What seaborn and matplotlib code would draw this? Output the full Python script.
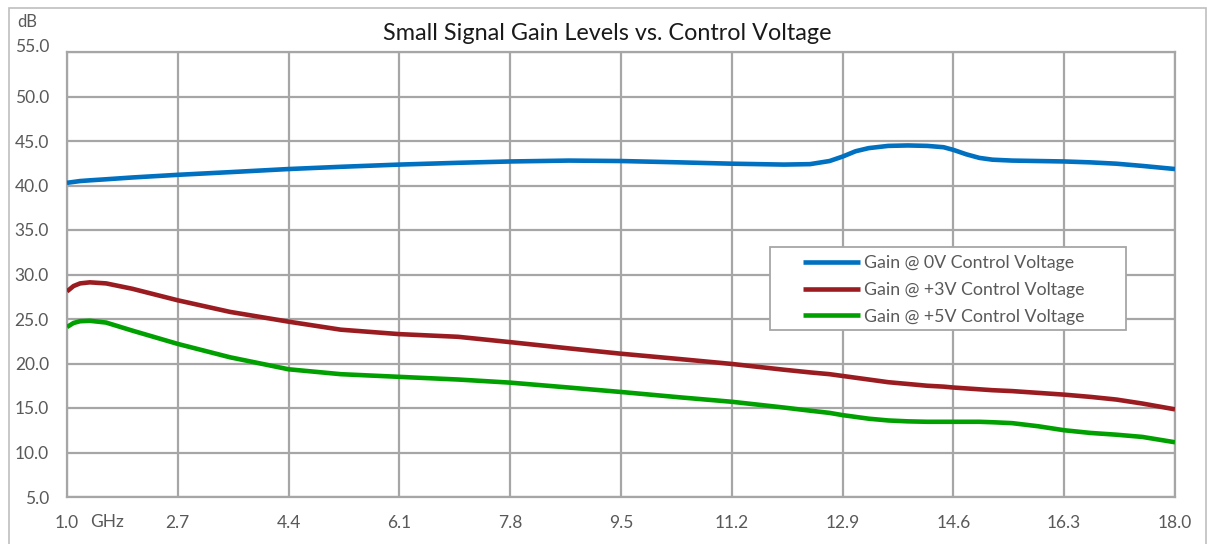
import numpy as np
import pandas as pd
import matplotlib
matplotlib.use("Agg")
import matplotlib.pyplot as plt
import matplotlib.transforms as mtransforms
from matplotlib.patches import Rectangle
import seaborn as sns

# ---- data ----
freq_ghz = [1.0, 1.1, 1.2, 1.35, 1.6, 2.0, 2.7, 3.5, 4.4, 5.2, 6.1, 7.0, 7.8, 8.7, 9.5,
            10.4, 11.2, 12.0, 12.4, 12.7, 12.9, 13.1, 13.3, 13.6, 13.9, 14.2, 14.45, 14.6,
            14.8, 15.0, 15.2, 15.5, 15.9, 16.3, 16.7, 17.1, 17.5, 18.0]
gain_0v = [40.3, 40.4, 40.5, 40.58, 40.7, 40.9, 41.2, 41.5, 41.85, 42.1, 42.35, 42.55, 42.7, 42.8, 42.75,
           42.6, 42.45, 42.35, 42.4, 42.75, 43.25, 43.85, 44.2, 44.45, 44.5, 44.45, 44.3, 44.0,
           43.5, 43.1, 42.9, 42.8, 42.75, 42.7, 42.6, 42.45, 42.2, 41.85]
gain_3v = [28.1, 28.7, 29.0, 29.12, 29.0, 28.4, 27.1, 25.8, 24.7, 23.8, 23.3, 23.0, 22.4, 21.7, 21.1,
           20.5, 19.95, 19.3, 19.0, 18.8, 18.6, 18.4, 18.2, 17.9, 17.7, 17.5, 17.4, 17.3,
           17.2, 17.1, 17.0, 16.9, 16.7, 16.5, 16.25, 15.95, 15.5, 14.85]
gain_5v = [24.1, 24.55, 24.75, 24.8, 24.6, 23.7, 22.2, 20.7, 19.35, 18.8, 18.5, 18.2, 17.85, 17.3, 16.8,
           16.2, 15.7, 15.05, 14.7, 14.45, 14.2, 14.0, 13.8, 13.6, 13.5, 13.45, 13.45, 13.45,
           13.45, 13.45, 13.4, 13.3, 12.95, 12.5, 12.2, 12.0, 11.75, 11.15]
series_names = ["Gain @ 0V Control Voltage", "Gain @ +3V Control Voltage", "Gain @ +5V Control Voltage"]
series_colors = ["#0070C0", "#9B1C20", "#00A000"]
x_ticks = [1.0, 2.7, 4.4, 6.1, 7.8, 9.5, 11.2, 12.9, 14.6, 16.3, 18.0]
x_tick_labels = ["1.0", "2.7", "4.4", "6.1", "7.8", "9.5", "11.2", "12.9", "14.6", "16.3", "18.0"]
y_ticks = [5, 10, 15, 20, 25, 30, 35, 40, 45, 50, 55]
y_tick_labels = ["5.0", "10.0", "15.0", "20.0", "25.0", "30.0", "35.0", "40.0", "45.0", "50.0", "55.0"]

df = pd.DataFrame({
    "freq": freq_ghz * 3,
    "gain": gain_0v + gain_3v + gain_5v,
    "series": [series_names[0]] * len(freq_ghz) + [series_names[1]] * len(freq_ghz)
              + [series_names[2]] * len(freq_ghz),
})

sns.set_theme(style="white")
plt.rcParams["font.family"] = ["Lato", "DejaVu Sans"]

W, H = 1209, 544
fig = plt.figure(figsize=(W / 100, H / 100), dpi=100)
ax = fig.add_axes([67 / W, 1 - 497 / H, (1175 - 67) / W, (497 - 52) / H])

GRID = "#A6A6A6"
TXT = "#595959"
FS = 12.5

sns.lineplot(data=df, x="freq", y="gain", hue="series", palette=series_colors,
             hue_order=series_names, linewidth=3.3, ax=ax, sort=False, zorder=3)
for ln in ax.get_lines():
    ln.set_solid_joinstyle("round")
    ln.set_solid_capstyle("butt")

ax.set_xlim(1.0, 18.0)
ax.set_ylim(5, 55)
ax.set_xticks(x_ticks)
ax.set_xticklabels(x_tick_labels)
ax.set_yticks(y_ticks)
ax.set_yticklabels(y_tick_labels)
ax.tick_params(axis="both", length=0, labelsize=FS, labelcolor=TXT)
ax.tick_params(axis="x", pad=13)
ax.tick_params(axis="y", pad=13)
ax.grid(True, color=GRID, linewidth=1.6)
for s in ax.spines.values():
    s.set_color(GRID)
    s.set_linewidth(1.6)
ax.set_xlabel("")
ax.set_ylabel("")

# top y label sits slightly above its gridline in the reference
lab = ax.get_yticklabels()[-1]
lab.set_transform(lab.get_transform() + mtransforms.ScaledTranslation(0, 7 / 100, fig.dpi_scale_trans))

fig.text(90 / W, 1 - 522 / H, "GHz", fontsize=FS, color=TXT, va="center", ha="left")
fig.text(17 / W, 1 - 22 / H, "dB", fontsize=12, color=TXT, va="center", ha="left")
fig.text(607 / W, 1 - 33 / H, "Small Signal Gain Levels vs. Control Voltage",
         fontsize=16.8, color="#1A1A1A", va="center", ha="center")

# outer chart border
fig.patches.append(Rectangle((9 / W, -0.05), (1206 - 9) / W, 1.05 - 8 / H,
                             transform=fig.transFigure, fill=False, edgecolor="#BFBFBF",
                             linewidth=1.2, zorder=0))

# legend box (wider than its content, as in the reference)
ax.add_patch(Rectangle((770 / W, 1 - 330 / H), (1126 - 770) / W, (330 - 247) / H,
                       transform=fig.transFigure, facecolor="white", edgecolor=GRID,
                       linewidth=1.3, zorder=4, clip_on=False))
leg = ax.legend(loc="center left", bbox_to_anchor=(803 / W, 1 - 290 / H),
                bbox_transform=fig.transFigure, borderaxespad=0, borderpad=0, fontsize=FS + 0.3,
                frameon=False, handlelength=3.2, handletextpad=0.25,
                labelspacing=0.6, title=None)
leg.set_zorder(5)
for t in leg.get_texts():
    t.set_color(TXT)
for l in leg.get_lines():
    l.set_linewidth(3.3)

fig.savefig("out.png", dpi=100)
